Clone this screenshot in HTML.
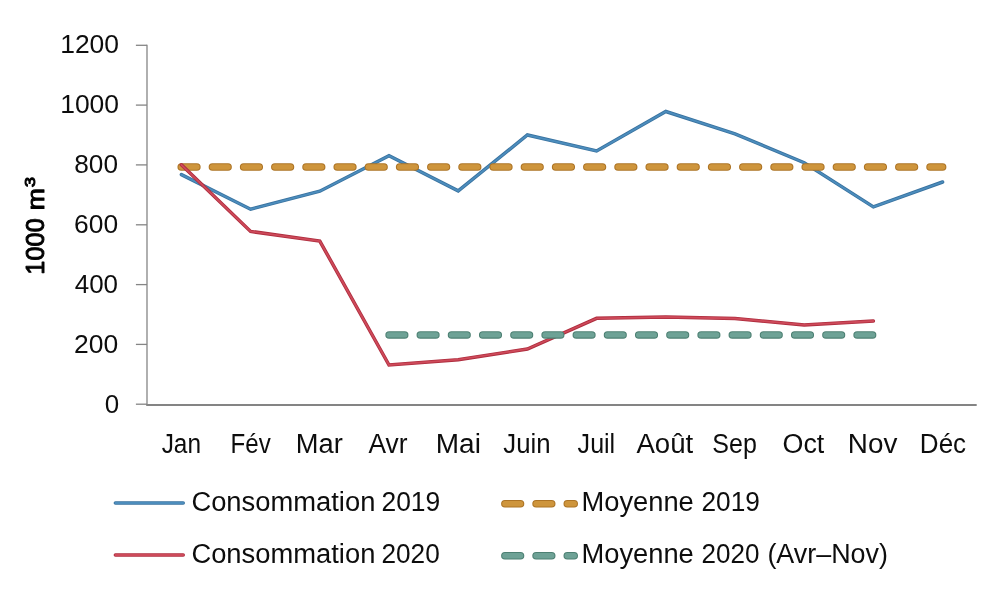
<!DOCTYPE html>
<html lang="fr"><head><meta charset="utf-8"><title>Consommation</title>
<style>
html,body{margin:0;padding:0;background:#fff;}
body{width:1000px;height:590px;overflow:hidden;}
svg{display:block;}
text{font-family:"Liberation Sans",sans-serif;fill:#0d0d0d;}
</style></head><body>
<svg width="1000" height="590" viewBox="0 0 1000 590">
<rect width="1000" height="590" fill="#fff"/>
<g stroke="#858585" stroke-width="1.3" fill="none">
<line x1="147" y1="44.7" x2="147" y2="405.8"/>
<line x1="135.9" y1="45.3" x2="147" y2="45.3"/>
<line x1="135.9" y1="105.1" x2="147" y2="105.1"/>
<line x1="135.9" y1="164.9" x2="147" y2="164.9"/>
<line x1="135.9" y1="224.8" x2="147" y2="224.8"/>
<line x1="135.9" y1="284.6" x2="147" y2="284.6"/>
<line x1="135.9" y1="344.4" x2="147" y2="344.4"/>
<line x1="135.9" y1="404.2" x2="147" y2="404.2"/>
</g>
<line x1="146.35" y1="404.95" x2="976.7" y2="404.95" stroke="#848484" stroke-width="1.85"/>
<polyline points="181.4,174.6 250.6,209.2 319.8,191.2 389.0,155.7 458.2,190.9 527.4,135.0 596.6,151.0 665.8,111.5 735.0,133.9 804.2,162.7 873.4,206.9 942.6,182.0" fill="none" stroke="#39729f" stroke-width="3.5" stroke-linejoin="miter" stroke-linecap="round"/>
<polyline points="181.4,174.6 250.6,209.2 319.8,191.2 389.0,155.7 458.2,190.9 527.4,135.0 596.6,151.0 665.8,111.5 735.0,133.9 804.2,162.7 873.4,206.9 942.6,182.0" fill="none" stroke="#4c8dbd" stroke-width="1.80" stroke-linejoin="miter" stroke-linecap="round"/>
<line x1="181.25" y1="167" x2="942.6" y2="167" stroke="#ad7425" stroke-width="7.6" stroke-linecap="round" stroke-dasharray="15.6 15.6"/>
<line x1="181.25" y1="167" x2="942.6" y2="167" stroke="#ce953c" stroke-width="5.50" stroke-linecap="round" stroke-dasharray="15.6 15.6"/>
<polyline points="181.4,164.8 250.6,231.4 319.8,241.1 389.0,365.0 458.2,359.7 527.4,349.0 596.6,318.3 665.8,317.0 735.0,318.5 804.2,324.9 873.4,321.0" fill="none" stroke="#ae2d3e" stroke-width="3.5" stroke-linejoin="miter" stroke-linecap="round"/>
<polyline points="181.4,164.8 250.6,231.4 319.8,241.1 389.0,365.0 458.2,359.7 527.4,349.0 596.6,318.3 665.8,317.0 735.0,318.5 804.2,324.9 873.4,321.0" fill="none" stroke="#ce4a5a" stroke-width="1.80" stroke-linejoin="miter" stroke-linecap="round"/>
<line x1="389.1" y1="334.9" x2="872.6" y2="334.9" stroke="#4d8073" stroke-width="7.5" stroke-linecap="round" stroke-dasharray="15.6 15.6"/>
<line x1="389.1" y1="334.9" x2="872.6" y2="334.9" stroke="#6ea296" stroke-width="5.40" stroke-linecap="round" stroke-dasharray="15.6 15.6"/>
<text y="53.1" font-size="25.9"><tspan id="y0" x="60.20" textLength="58.85" lengthAdjust="spacingAndGlyphs">1200</tspan></text>
<text y="113.0" font-size="25.9"><tspan id="y1" x="60.20" textLength="58.85" lengthAdjust="spacingAndGlyphs">1000</tspan></text>
<text y="172.9" font-size="25.9"><tspan id="y2" x="74.25" textLength="43.71" lengthAdjust="spacingAndGlyphs">800</tspan></text>
<text y="232.8" font-size="25.9"><tspan id="y3" x="74.05" textLength="44.02" lengthAdjust="spacingAndGlyphs">600</tspan></text>
<text y="292.7" font-size="25.9"><tspan id="y4" x="74.74" textLength="43.27" lengthAdjust="spacingAndGlyphs">400</tspan></text>
<text y="352.6" font-size="25.9"><tspan id="y5" x="73.98" textLength="44.14" lengthAdjust="spacingAndGlyphs">200</tspan></text>
<text y="412.5" font-size="25.9"><tspan id="y6" x="104.80" textLength="14.40" lengthAdjust="spacingAndGlyphs">0</tspan></text>
<text y="452.8" font-size="27"><tspan id="m0" x="161.67" textLength="39.32" lengthAdjust="spacingAndGlyphs">Jan</tspan></text>
<text y="452.8" font-size="27"><tspan id="m1" x="230.61" textLength="40.16" lengthAdjust="spacingAndGlyphs">Fév</tspan></text>
<text y="452.8" font-size="27"><tspan id="m2" x="295.78" textLength="47.02" lengthAdjust="spacingAndGlyphs">Mar</tspan></text>
<text y="452.8" font-size="27"><tspan id="m3" x="368.50" textLength="39.04" lengthAdjust="spacingAndGlyphs">Avr</tspan></text>
<text y="452.8" font-size="27"><tspan id="m4" x="435.82" textLength="45.10" lengthAdjust="spacingAndGlyphs">Mai</tspan></text>
<text y="452.8" font-size="27"><tspan id="m5" x="503.29" textLength="47.26" lengthAdjust="spacingAndGlyphs">Juin</tspan></text>
<text y="452.8" font-size="27"><tspan id="m6" x="577.61" textLength="37.57" lengthAdjust="spacingAndGlyphs">Juil</tspan></text>
<text y="452.8" font-size="27"><tspan id="m7" x="636.46" textLength="56.73" lengthAdjust="spacingAndGlyphs">Août</tspan></text>
<text y="452.8" font-size="27"><tspan id="m8" x="712.36" textLength="44.50" lengthAdjust="spacingAndGlyphs">Sep</tspan></text>
<text y="452.8" font-size="27"><tspan id="m9" x="782.51" textLength="41.83" lengthAdjust="spacingAndGlyphs">Oct</tspan></text>
<text y="452.8" font-size="27"><tspan id="m10" x="847.87" textLength="49.52" lengthAdjust="spacingAndGlyphs">Nov</tspan></text>
<text y="452.8" font-size="27"><tspan id="m11" x="919.85" textLength="46.27" lengthAdjust="spacingAndGlyphs">Déc</tspan></text>
<text y="511.2" font-size="27"><tspan id="l1a" x="191.41" textLength="183.95" lengthAdjust="spacingAndGlyphs">Consommation</tspan> <tspan id="l1b" x="381.46" textLength="58.77" lengthAdjust="spacingAndGlyphs">2019</tspan></text>
<text y="563.2" font-size="27"><tspan id="l2a" x="191.41" textLength="183.95" lengthAdjust="spacingAndGlyphs">Consommation</tspan> <tspan id="l2b" x="381.50" textLength="58.24" lengthAdjust="spacingAndGlyphs">2020</tspan></text>
<text y="511.2" font-size="27"><tspan id="l3a" x="581.52" textLength="112.22" lengthAdjust="spacingAndGlyphs">Moyenne</tspan> <tspan id="l3b" x="701.50" textLength="58.35" lengthAdjust="spacingAndGlyphs">2019</tspan></text>
<text y="563.2" font-size="27"><tspan id="l4a" x="581.52" textLength="112.22" lengthAdjust="spacingAndGlyphs">Moyenne</tspan> <tspan id="l4b" x="701.54" textLength="57.91" lengthAdjust="spacingAndGlyphs">2020</tspan> <tspan id="l4c" x="767.41" textLength="120.51" lengthAdjust="spacingAndGlyphs">(Avr–Nov)</tspan></text>
<text transform="translate(44.0,274.65) rotate(-90)" font-size="26.4" style="fill:#000" stroke="#000" stroke-width="1.0" stroke-linejoin="round"><tspan textLength="56.4" lengthAdjust="spacingAndGlyphs">1000</tspan> <tspan dx="0.7" font-size="24" textLength="22.1" lengthAdjust="spacingAndGlyphs">m</tspan><tspan font-size="15.4" dx="0.9" dy="-9.3" textLength="10.3" lengthAdjust="spacingAndGlyphs">3</tspan></text>
<polyline points="115.4,503 183.2,503" fill="none" stroke="#39729f" stroke-width="3.6" stroke-linejoin="miter" stroke-linecap="round"/>
<polyline points="115.4,503 183.2,503" fill="none" stroke="#4c8dbd" stroke-width="1.90" stroke-linejoin="miter" stroke-linecap="round"/>
<polyline points="115.4,555 183.2,555" fill="none" stroke="#ae2d3e" stroke-width="3.6" stroke-linejoin="miter" stroke-linecap="round"/>
<polyline points="115.4,555 183.2,555" fill="none" stroke="#ce4a5a" stroke-width="1.90" stroke-linejoin="miter" stroke-linecap="round"/>
<line x1="504.9" y1="503.7" x2="574.2" y2="503.7" stroke="#ad7425" stroke-width="7.6" stroke-linecap="round" stroke-dasharray="15.6 15.6"/>
<line x1="504.9" y1="503.7" x2="574.2" y2="503.7" stroke="#ce953c" stroke-width="5.50" stroke-linecap="round" stroke-dasharray="15.6 15.6"/>
<line x1="504.9" y1="555.7" x2="574.2" y2="555.7" stroke="#4d8073" stroke-width="7.6" stroke-linecap="round" stroke-dasharray="15.6 15.6"/>
<line x1="504.9" y1="555.7" x2="574.2" y2="555.7" stroke="#6ea296" stroke-width="5.50" stroke-linecap="round" stroke-dasharray="15.6 15.6"/>
</svg></body></html>
